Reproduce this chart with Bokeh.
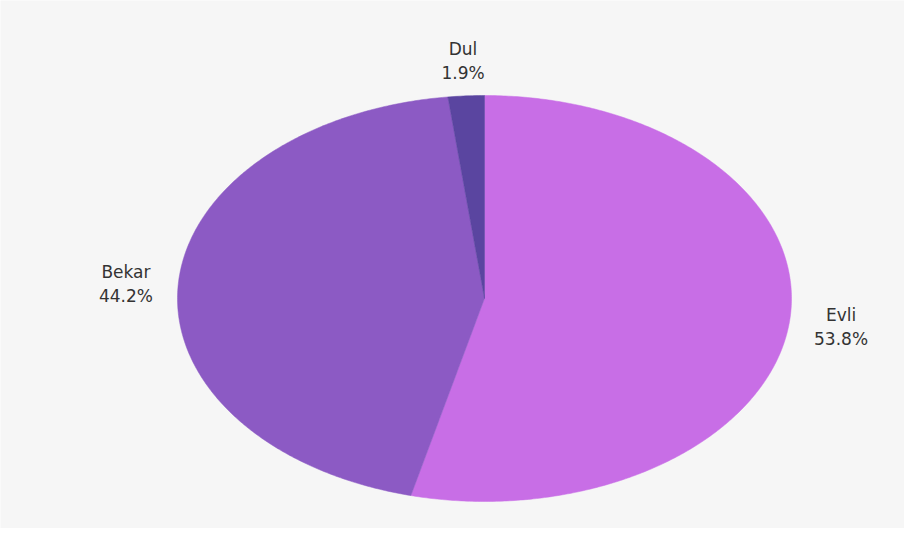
import numpy as np
from bokeh.plotting import figure
from bokeh.models import ColumnDataSource, Range1d
from bokeh.core.properties import value
from bokeh.embed import file_html
from bokeh.resources import INLINE

categories = ["Evli", "Bekar", "Dul"]
percents = [53.8, 44.2, 1.9]
colors = ["#c86ee6", "#8c5ac4", "#5a45a0"]

W, H = 904, 528
cx_px, cy_px = 484, 298
rx_px, ry_px = 307, 203

p = figure(width=W, height=H, output_backend="svg", toolbar_location=None,
           x_range=Range1d(-cx_px / rx_px, (W - cx_px) / rx_px),
           y_range=Range1d(-(H - cy_px) / ry_px, cy_px / ry_px),
           min_border=0)
p.axis.visible = False
p.grid.visible = False
p.outline_line_color = None
p.background_fill_color = "#f6f6f6"
p.border_fill_color = "#f6f6f6"

total = sum(percents)
fracs = np.array(percents) / total
ends = np.cumsum(fracs)
starts = ends - fracs

xs, ys = [], []
for s, e in zip(starts, ends):
    t = np.linspace(s, e, max(int((e - s) * 720), 4)) * 2 * np.pi
    xs.append(np.concatenate([[0], np.sin(t), [0]]))
    ys.append(np.concatenate([[0], np.cos(t), [0]]))

src = ColumnDataSource(dict(xs=xs, ys=ys, color=colors))
p.patches("xs", "ys", source=src, fill_color="color", line_color="color", line_width=0.5)

k = 1.17
mids = (starts + ends) / 2 * 2 * np.pi
labels = [f"{c}\n{v:.1f}%" for c, v in zip(categories, percents)]
lsrc = ColumnDataSource(dict(x=k * np.sin(mids), y=k * np.cos(mids), text=labels))
p.text("x", "y", text="text", source=lsrc, text_align="center", text_baseline="middle",
       text_font=value("DejaVu Sans"), text_font_size="17px", text_color="#333333",
       text_line_height=1.2)

open("out.html", "w").write(file_html(p, INLINE))
